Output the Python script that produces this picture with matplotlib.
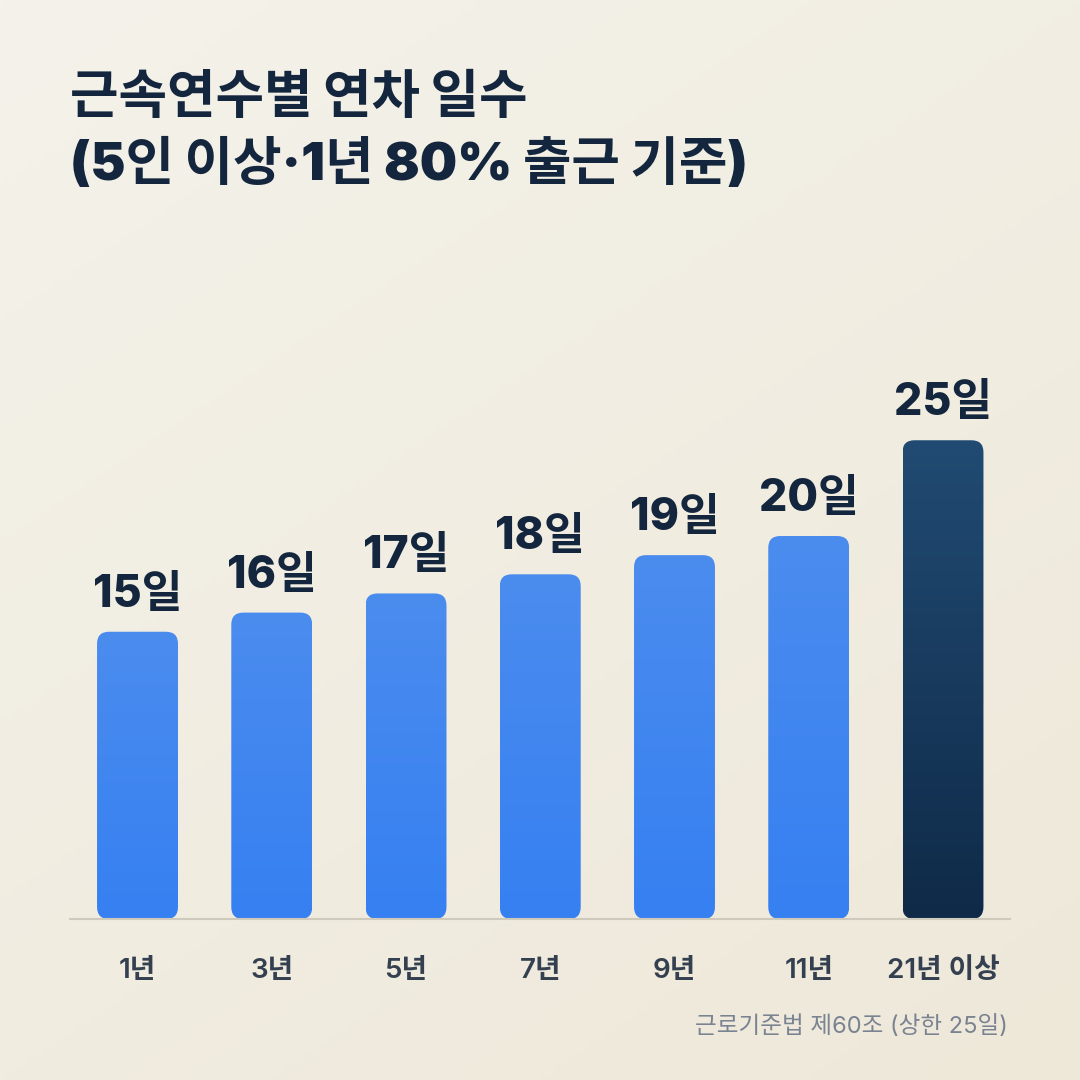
import numpy as np
import matplotlib
matplotlib.use("Agg")
import matplotlib.pyplot as plt
from matplotlib.patches import FancyBboxPatch
from matplotlib.colors import LinearSegmentedColormap

FAM = ['Inter', 'Noto Sans CJK KR', 'DejaVu Sans']
plt.rcParams['font.family'] = FAM

categories = ["1년", "3년", "5년", "7년", "9년", "11년", "21년 이상"]
days = [15, 16, 17, 18, 19, 20, 25]
value_labels = ["15일", "16일", "17일", "18일", "19일", "20일", "25일"]
title = "근속연수별 연차 일수\n(5인 이상·1년 80% 출근 기준)"
source = "근로기준법 제60조 (상한 25일)"

W = H = 1080
fig = plt.figure(figsize=(10.8, 10.8), dpi=100)

# background gradient
bg = fig.add_axes([0, 0, 1, 1], zorder=0)
bg.axis('off')
yy, xx = np.mgrid[0:1:200j, 0:1:200j]
t = 0.6 * yy + 0.4 * xx
c0 = np.array([0xf4, 0xf2, 0xea]) / 255
c1 = np.array([0xee, 0xe8, 0xd9]) / 255
img = c0[None, None, :] * (1 - t[..., None]) + c1[None, None, :] * t[..., None]
bg.imshow(img, extent=[0, 1, 0, 1], aspect='auto', origin='upper')
bg.set_xlim(0, 1); bg.set_ylim(0, 1)

# chart axes: x -0.5..6.5 maps 70..1010 px; y 0..30 from baseline 919
px_per_day = 19.15
ymax = 30
left, right = 70.4, 1010.1
base = 919
ax = fig.add_axes([left / W, (H - base) / H, (right - left) / W, ymax * px_per_day / H], zorder=1)
ax.set_xlim(-0.5, len(categories) - 0.5)
ax.set_ylim(0, ymax)
ax.patch.set_alpha(0)
for s in ['top', 'right', 'left']:
    ax.spines[s].set_visible(False)
ax.spines['bottom'].set_color('#cfcabb')
ax.spines['bottom'].set_linewidth(1.5)
ax.set_yticks([])
ax.set_xticks(range(len(categories)))
ax.set_xticklabels(categories, fontsize=20, fontweight='semibold', color='#34404f')
ax.tick_params(axis='x', length=0, pad=28)

bar_w = 0.603
x_unit = (right - left) / len(categories)
y_unit = px_per_day
aspect = x_unit / y_unit
r_px = 12
r = r_px / x_unit

blue = LinearSegmentedColormap.from_list('b', ['#4b8cee', '#3680f2'])
navy = LinearSegmentedColormap.from_list('n', ['#214b73', '#0f2a48'])
grad = np.linspace(0, 1, 256)[:, None]

for i, (v, lab) in enumerate(zip(days, value_labels)):
    x0 = i - bar_w / 2
    patch = FancyBboxPatch((x0, 0), bar_w, v,
                           boxstyle=f"round,pad=0,rounding_size={r}",
                           mutation_aspect=aspect,
                           facecolor='none', edgecolor='none', zorder=2)
    ax.add_patch(patch)
    cmap = navy if i == len(days) - 1 else blue
    im = ax.imshow(grad, extent=[x0, x0 + bar_w, 0, v], cmap=cmap, aspect='auto',
                   origin='upper', zorder=2, vmin=0, vmax=1)
    im.set_clip_path(patch)
    ax.text(i, v + 16 / y_unit, lab, ha='center', va='bottom', fontsize=32,
            fontweight='heavy', color='#13263d', zorder=3)

ax.set_xlim(-0.5, len(categories) - 0.5)
ax.set_ylim(0, ymax)

fig.text(70 / W, 1 - 75 / H, title, ha='left', va='top', fontsize=38,
         fontweight='black', color='#13263d', linespacing=1.38)
fig.text(1008 / W, 1 - 1027 / H, source, ha='right', va='center', fontsize=17,
         color='#7a8391')

fig.savefig('out.png', dpi=100)
